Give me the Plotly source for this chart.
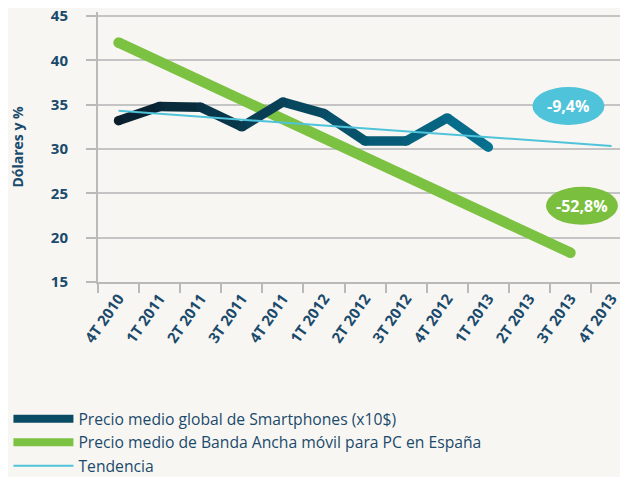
import plotly.graph_objects as go

quarters = ["4T 2010", "1T 2011", "2T 2011", "3T 2011", "4T 2011", "1T 2012", "2T 2012",
            "3T 2012", "4T 2012", "1T 2013", "2T 2013", "3T 2013", "4T 2013"]
smart_q = quarters[:10]
smart_vals = [33.2, 34.8, 34.7, 32.5, 35.3, 34.0, 30.9, 30.9, 33.5, 30.2]
banda_q = ["4T 2010", "3T 2013"]
banda_vals = [42.0, 18.3]
trend_q = ["4T 2010", "4T 2013"]
trend_vals = [34.3, 30.35]
y_ticks = [15, 20, 25, 30, 35, 40, 45]
badge_text = ["-9,4%", "-52,8%"]

names = ["Precio medio global de Smartphones (x10$)",
         "Precio medio de Banda Ancha móvil para PC en España",
         "Tendencia"]

DARK0 = (10, 30, 44)
DARK1 = (6, 114, 146)
GREEN = "#7cc242"
CYAN = "#4fc3da"
TXT = "#1a4a6c"
BG = "#f8f6f2"


def mix(t):
    return "rgb(%d,%d,%d)" % tuple(round(a + (b - a) * t) for a, b in zip(DARK0, DARK1))


fig = go.Figure()

# green line
fig.add_trace(go.Scatter(x=banda_q, y=banda_vals, mode="lines+markers",
                         line=dict(color=GREEN, width=10.5),
                         marker=dict(color=GREEN, size=10.5, line=dict(width=0)),
                         showlegend=False, hoverinfo="skip"))

# dark gradient line in segments
n = len(smart_vals)
for i in range(n - 1):
    t = (i + 0.5) / (n - 1)
    fig.add_trace(go.Scatter(x=smart_q[i:i + 2], y=smart_vals[i:i + 2], mode="lines",
                             line=dict(color=mix(t), width=9.5),
                             showlegend=False, hoverinfo="skip"))
fig.add_trace(go.Scatter(x=smart_q, y=smart_vals, mode="markers",
                         marker=dict(color=[mix(i / (n - 1)) for i in range(n)], size=9.5,
                                     line=dict(width=0)),
                         showlegend=False, hoverinfo="skip"))

# trend
fig.add_trace(go.Scatter(x=trend_q, y=trend_vals, mode="lines",
                         line=dict(color=CYAN, width=2),
                         showlegend=False, hoverinfo="skip"))

# legend entries
fig.add_trace(go.Scatter(x=[None], y=[None], mode="lines", name=names[0],
                         line=dict(color=mix(0.55), width=8)))
fig.add_trace(go.Scatter(x=[None], y=[None], mode="lines", name=names[1],
                         line=dict(color=GREEN, width=8)))
fig.add_trace(go.Scatter(x=[None], y=[None], mode="lines", name=names[2],
                         line=dict(color=CYAN, width=2)))

# badges
badges = [(10.95, 34.85, CYAN, badge_text[0]), (11.28, 23.6, "#7bbf3e", badge_text[1])]
for bx, by, col, txt in badges:
    fig.add_shape(type="circle", xref="x", yref="y", xsizemode="pixel", ysizemode="pixel",
                  xanchor=bx, yanchor=by, x0=-36, x1=36, y0=-19, y1=19,
                  fillcolor=col, line=dict(width=0), layer="above")
    fig.add_annotation(x=bx, y=by, xref="x", yref="y", text=txt, showarrow=False,
                       font=dict(family="Open Sans", size=16, color="white", weight="bold"))

# page body has an 8px margin: figure is sized/offset to compensate
fig.update_layout(
    width=620, height=469,
    margin=dict(l=90, r=0, t=4, b=195, autoexpand=False),
    paper_bgcolor=BG, plot_bgcolor=BG,
    font=dict(family="Open Sans", color=TXT),
    legend=dict(x=-0.169, xanchor="left", y=-0.445, yanchor="top",
                font=dict(family="Open Sans", size=15.7, color=TXT),
                itemwidth=60, tracegroupgap=0, bgcolor="rgba(0,0,0,0)"),
    showlegend=True,
)

fig.update_xaxes(type="category", categoryorder="array", categoryarray=quarters,
                 range=[-0.5, 12.4], showgrid=False, tickson="boundaries", automargin=False,
                 ticks="outside", ticklen=9, tickwidth=2, tickcolor="#b9b9b9",
                 showline=True, linecolor="#b9b9b9", linewidth=2, ticklabeloverflow="allow",
                 tickangle=-55, tickfont=dict(family="Open Sans", size=15, color=TXT, weight="bold"))
fig.update_yaxes(range=[15, 45.451], tickvals=y_ticks, showgrid=True, gridcolor="#c4c4c4", gridwidth=1.5,
                 zeroline=False, ticks="outside", ticklen=10, tickwidth=2, tickcolor="#b9b9b9",
                 showline=True, linecolor="#b9b9b9", linewidth=2, ticklabelstandoff=15, automargin=False,
                 ticklabeloverflow="allow",
                 tickfont=dict(family="Open Sans", size=15, color=TXT, weight="bold"),
                 title=dict(text="Dólares y %", standoff=30,
                            font=dict(family="Open Sans", size=14, color=TXT, weight="bold")))

fig.write_html("out.html")
